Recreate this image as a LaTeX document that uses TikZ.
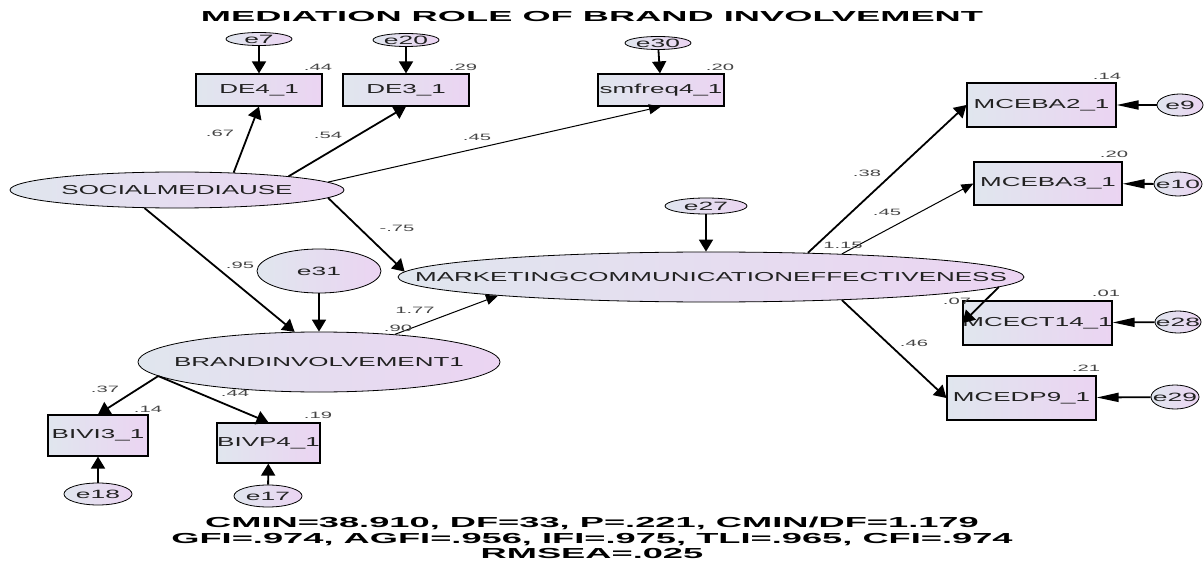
\documentclass[tikz,border=0pt]{standalone}
\usepackage{fontspec}
\newfontfamily\labelfont[FakeStretch=2.0]{Liberation Sans}
\newfontfamily\estfont[FakeStretch=2.2]{Liberation Sans}
\newfontfamily\headfont[FakeStretch=2.5]{Liberation Sans}
\usetikzlibrary{shapes.geometric,arrows.meta}
\definecolor{amosleft}{RGB}{224,230,238}
\definecolor{amosright}{RGB}{235,212,242}
\definecolor{estgrey}{RGB}{70,70,70}
\definecolor{labelgrey}{RGB}{34,34,34}
\newcommand{\zerow}[1]{\makebox[0pt]{#1}}
\tikzset{
  latent/.style={ellipse, draw, line width=0.8pt, left color=amosleft, right color=amosright,
    inner sep=0pt, text=labelgrey, font=\labelfont\fontsize{13}{15}\selectfont},
  errnode/.style={latent, font=\estfont\fontsize{12}{14}\selectfont},
  observed/.style={rectangle, draw, line width=1.2pt, left color=amosleft, right color=amosright,
    inner sep=0pt, text=labelgrey, font=\labelfont\fontsize{13}{15}\selectfont},
  est/.style={inner sep=0pt, text=estgrey, font=\estfont\fontsize{9.2}{11}\selectfont},
  arrowthick/.style={line width=1.8pt, -{Triangle[length=12pt,width=14pt]}},
  arrowthin/.style={line width=1pt, -{Triangle[length=12pt,width=10pt]}},
  arrowside/.style={line width=1.8pt, -{Triangle[length=22pt,width=9pt]}},
}
\begin{document}
\begin{tikzpicture}[x=1pt,y=-1pt]
    \path[use as bounding box, fill=white] (0,0) rectangle (1204,561);

    \node[font=\headfont\bfseries\fontsize{14.5}{16}\selectfont] (title) at (592,17) {MEDIATION ROLE OF BRAND INVOLVEMENT};

    % social media use and its indicators
    \node[latent, minimum width=334pt, minimum height=36pt] (sm) at (177,190) {\zerow{SOCIALMEDIAUSE}};
    \node[observed, minimum width=126pt, minimum height=32pt] (de4) at (259,90) {DE4\_1};
    \node[observed, minimum width=126pt, minimum height=32pt] (de3) at (406,90) {DE3\_1};
    \node[observed, minimum width=126pt, minimum height=32pt] (smfreq4) at (661,90) {smfreq4\_1};
    \node[errnode, minimum width=66pt, minimum height=13pt] (e7) at (259,39) {\zerow{e7}};
    \node[errnode, minimum width=66pt, minimum height=13pt] (e20) at (406,40) {\zerow{e20}};
    \node[errnode, minimum width=66pt, minimum height=13pt] (e30) at (658,43) {\zerow{e30}};

    % brand involvement
    \node[latent, minimum width=362pt, minimum height=60pt] (bi) at (319,362) {\zerow{BRANDINVOLVEMENT1}};
    \node[errnode, minimum width=124pt, minimum height=44pt] (e31) at (319,271) {\zerow{e31}};
    \node[observed, minimum width=100pt, minimum height=41pt] (bivi3) at (98,435.5) {\zerow{BIVI3\_1}};
    \node[observed, minimum width=103pt, minimum height=40pt] (bivp4) at (268.5,443) {\zerow{BIVP4\_1}};
    \node[errnode, minimum width=68pt, minimum height=22pt] (e18) at (98,494) {\zerow{e18}};
    \node[errnode, minimum width=68pt, minimum height=22pt] (e17) at (268,496) {\zerow{e17}};

    % marketing communication effectiveness
    \node[latent, minimum width=626pt, minimum height=50pt] (mce) at (711,277) {\zerow{MARKETINGCOMMUNICATIONEFFECTIVENESS}};
    \node[errnode, minimum width=82pt, minimum height=16pt] (e27) at (706,206) {\zerow{e27}};
    \node[observed, minimum width=149pt, minimum height=44pt] (mceba2) at (1041.5,105) {\zerow{MCEBA2\_1}};
    \node[observed, minimum width=148pt, minimum height=43pt] (mceba3) at (1048,183.5) {\zerow{MCEBA3\_1}};
    \node[observed, minimum width=149pt, minimum height=44pt] (mcect14) at (1037.5,323) {\zerow{MCECT14\_1}};
    \node[observed, minimum width=149pt, minimum height=44pt] (mcedp9) at (1021.5,398) {\zerow{MCEDP9\_1}};
    \node[errnode, minimum width=46pt, minimum height=22pt] (e9) at (1180,105) {\zerow{e9}};
    \node[errnode, minimum width=48pt, minimum height=24pt] (e10) at (1178,184) {\zerow{e10}};
    \node[errnode, minimum width=46pt, minimum height=22pt] (e28) at (1178,322) {\zerow{e28}};
    \node[errnode, minimum width=48pt, minimum height=24pt] (e29) at (1175,397) {\zerow{e29}};

    % paths
    \draw[arrowthick] (e7) -- (de4);
    \draw[arrowthick] (e20) -- (de3);
    \draw[arrowthick] (e30) -- (smfreq4);
    \draw[arrowthick] (sm.17) -- (de4.south);
    \draw[arrowthick] (sm.7) -- (de3.south);
    \draw[arrowthin] (sm.3) -- (smfreq4.south);
    \draw[arrowthick] (sm.209) -- (bi.129);
    \draw[arrowthick] (sm.357) -- (mce.179);
    \draw[arrowthick] (e31) -- (bi);
    \draw[arrowthin] (bi.20) -- (mce.185);
    \draw[arrowthick] (e27.south) -- (e27.south |- mce.north);
    \draw[arrowthick] (mce.14) -- (mceba2.west);
    \draw[arrowthin] (mce.10) -- (mceba3.west);
    \draw[arrowthick] (mce.358) -- (mcect14.west);
    \draw[arrowthick] (mce.350) -- (mcedp9.west);
    \draw[arrowside] (e9) -- (mceba2);
    \draw[arrowside] (e10) -- (mceba3);
    \draw[arrowside] (e28) -- (mcect14);
    \draw[arrowside] (e29) -- (mcedp9);
    \draw[arrowthick] (bi.185) -- (bivi3.north);
    \draw[arrowthick] (bi.185) -- (bivp4.north);
    \draw[arrowthick] (e18) -- (bivi3);
    \draw[arrowthick] (e17) -- (bivp4);

    % estimates
    \foreach \x/\y/\val/\nm in {318/67/.44/r2de4, 463/67/.29/r2de3, 720/67/.20/r2smf,
        220/133/.67/wde4, 328/135/.54/wde3, 477/137/.45/wsmf, 397/228/-.75/wmce,
        240/265/.95/wbi, 415/310/1.77/wbimce, 398/328/.90/r2bi, 843/245/1.15/r2mce,
        867/173/.38/wba2, 887/212/.45/wba3, 957/301/.07/wct14, 914/343/.46/wdp9,
        1107/76/.14/r2ba2, 1114/154/.20/r2ba3, 1106/293/.01/r2ct14, 1086/368/.21/r2dp9,
        105/389/.37/wvi3, 235/393/.44/wvp4, 148/409/.14/r2vi3, 318/415/.19/r2vp4}
        \node[est] (\nm) at (\x,\y) {\val};

    \node[font=\headfont\bfseries\fontsize{14.5}{15.5}\selectfont, align=center, inner sep=0pt] (fitstats) at (592,538)
        {CMIN=38.910, DF=33, P=.221, CMIN/DF=1.179\\GFI=.974, AGFI=.956, IFI=.975, TLI=.965, CFI=.974\\RMSEA=.025};
\end{tikzpicture}
\end{document}
